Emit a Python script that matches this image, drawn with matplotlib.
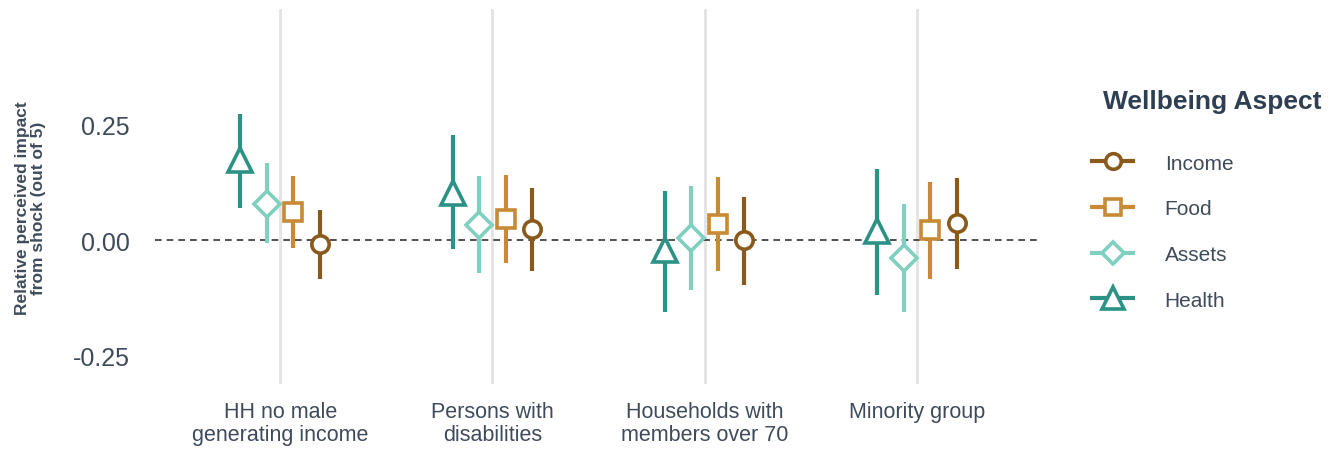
import numpy as np
import matplotlib.pyplot as plt
from matplotlib.lines import Line2D

plt.rcParams["font.family"] = ["Liberation Sans", "DejaVu Sans"]

groups = ["HH no male\ngenerating income", "Persons with\ndisabilities",
          "Households with\nmembers over 70", "Minority group"]

# estimate, lower, upper per aspect (one value per group)
health_est = [0.174, 0.102, -0.022, 0.020]
health_lo = [0.070, -0.020, -0.157, -0.120]
health_hi = [0.274, 0.228, 0.107, 0.154]

assets_est = [0.078, 0.033, 0.004, -0.038]
assets_lo = [-0.007, -0.072, -0.109, -0.157]
assets_hi = [0.167, 0.139, 0.117, 0.078]

food_est = [0.061, 0.046, 0.035, 0.022]
food_lo = [-0.017, -0.050, -0.067, -0.085]
food_hi = [0.139, 0.141, 0.136, 0.126]

income_est = [-0.009, 0.024, 0.000, 0.037]
income_lo = [-0.085, -0.067, -0.098, -0.063]
income_hi = [0.065, 0.113, 0.094, 0.135]

text_col = "#3f4b5b"
series = [
    ("Health", health_est, health_lo, health_hi, "#2b9285", "^", 17),
    ("Assets", assets_est, assets_lo, assets_hi, "#7fd0bf", "D", 13),
    ("Food", food_est, food_lo, food_hi, "#c98a35", "s", 12.5),
    ("Income", income_est, income_lo, income_hi, "#8a5a1c", "o", 12.5),
]

fig = plt.figure(figsize=(13.43, 4.52), dpi=100)
ax = fig.add_axes([0.1154, 0.148, 0.659, 0.830])

x = np.arange(len(groups))
for i in x:
    ax.axvline(i, color="#e3e3e3", lw=2, zorder=0)
ax.axhline(0, color="#333333", lw=1.2, ls=(0, (4, 3)), zorder=1)

offsets = [-0.1875, -0.0625, 0.0625, 0.1875]
handles = {}
for (name, est, lo, hi, col, mk, ms), off in zip(series, offsets):
    est = np.array(est)
    xs = x + off
    ax.vlines(xs, lo, hi, color=col, lw=3, zorder=2)
    ax.plot(xs, est, ls="none", marker=mk, ms=ms, mfc="white", mec=col,
            mew=2.6, zorder=3)
    handles[name] = Line2D([], [], color=col, lw=3, marker=mk, ms=ms * 0.9,
                           mfc="white", mec=col, mew=2.6)

ax.set_xlim(-0.59, 3.58)
ax.set_ylim(-0.313, 0.502)
ax.set_xticks(x)
ax.set_xticklabels(groups, fontsize=15.5, color=text_col, linespacing=1.15)
ax.set_yticks([-0.25, 0, 0.25])
ax.set_yticklabels(["-0.25", "0.00", "0.25"], fontsize=18, color=text_col)
ax.tick_params(axis="both", length=0)
ax.tick_params(axis="y", pad=18)
ax.tick_params(axis="x", pad=12)
for s in ax.spines.values():
    s.set_visible(False)

ax.set_ylabel("Relative perceived impact\nfrom shock (out of 5)", fontsize=12.5,
              fontweight="bold", color=text_col, linespacing=1.1)
ax.yaxis.set_label_coords(-0.123, 0.472)

fig.text(1103 / 1343, 1 - 102 / 452, "Wellbeing Aspect", fontsize=19,
         fontweight="bold", color="#2e3f52", va="center", ha="left")
order = ["Income", "Food", "Assets", "Health"]
fig.legend([handles[n] for n in order], order, loc="upper left",
           bbox_to_anchor=(1073 / 1343, 1 - 136 / 452), frameon=False,
           fontsize=15, labelcolor=text_col, handlelength=2.0,
           handletextpad=1.5, labelspacing=1.28)

fig.savefig("out.png", dpi=100)
